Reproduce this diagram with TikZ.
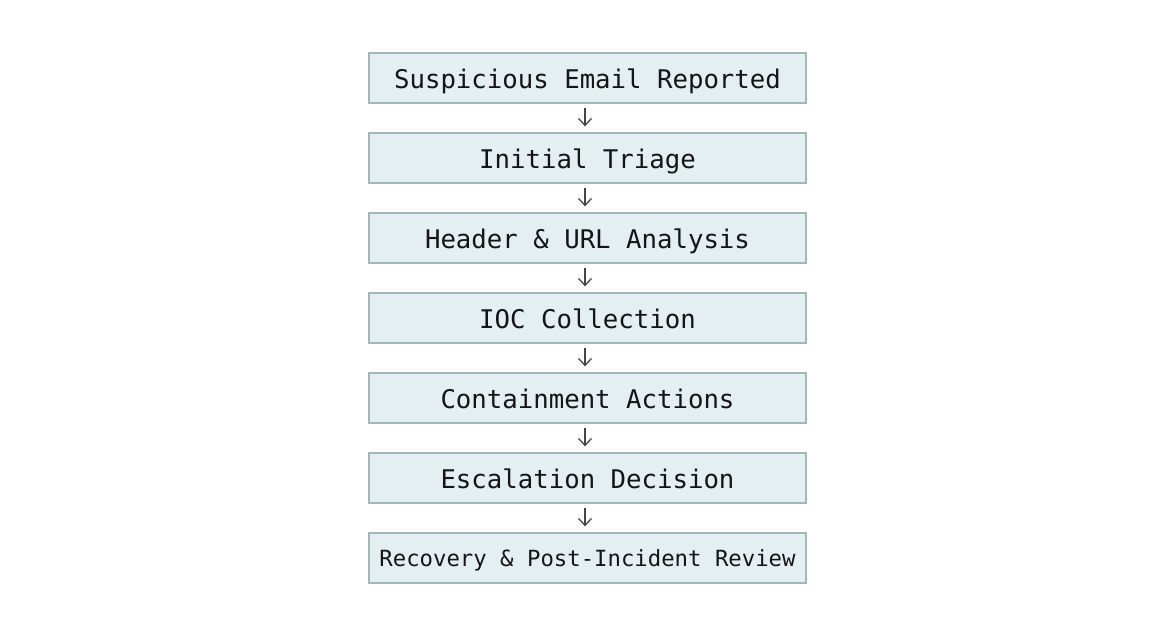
\documentclass[tikz,border=0pt]{standalone}
\usepackage{fontspec}
\setmonofont{DejaVu Sans Mono}
\usetikzlibrary{arrows.meta}
\definecolor{boxfill}{HTML}{E4EFF1}
\definecolor{boxline}{HTML}{A3B7BA}
\definecolor{txt}{HTML}{151515}
\definecolor{arr}{HTML}{454545}
\tikzset{
  stepbox/.style={draw=boxline, line width=1.3pt, fill=boxfill, minimum width=437pt, minimum height=50pt, inner sep=0pt, text=txt, text height=20.6pt, text depth=0pt, font=\ttfamily\fontsize{25.7}{28}\selectfont},
  smallbox/.style={stepbox, text height=16.8pt, font=\ttfamily\fontsize{22.3}{26}\selectfont},
  flow/.style={draw=arr, line width=1.3pt, -{Straight Barb[length=7pt,width=13pt,line width=1.3pt]}}
}
\begin{document}
\begin{tikzpicture}[x=1pt,y=1pt]
\useasboundingbox[fill=white] (0,0) rectangle (1173,627);
\node[stepbox] (b1) at (587.5,549) {Suspicious Email Reported};
\node[stepbox] (b2) at (587.5,469) {Initial Triage};
\node[stepbox] (b3) at (587.5,389) {Header \& URL Analysis};
\node[stepbox] (b4) at (587.5,309) {IOC Collection};
\node[stepbox] (b5) at (587.5,229) {Containment Actions};
\node[stepbox] (b6) at (587.5,149) {Escalation Decision};
\node[smallbox] (b7) at (587.5,69) {Recovery \& Post-Incident Review};
\foreach \a/\b in {b1/b2,b2/b3,b3/b4,b4/b5,b5/b6,b6/b7}{
  \draw[flow] ([xshift=-2.5pt,yshift=-4pt]\a.south) -- ([xshift=-2.5pt,yshift=6pt]\b.north);
}
\end{tikzpicture}
\end{document}
